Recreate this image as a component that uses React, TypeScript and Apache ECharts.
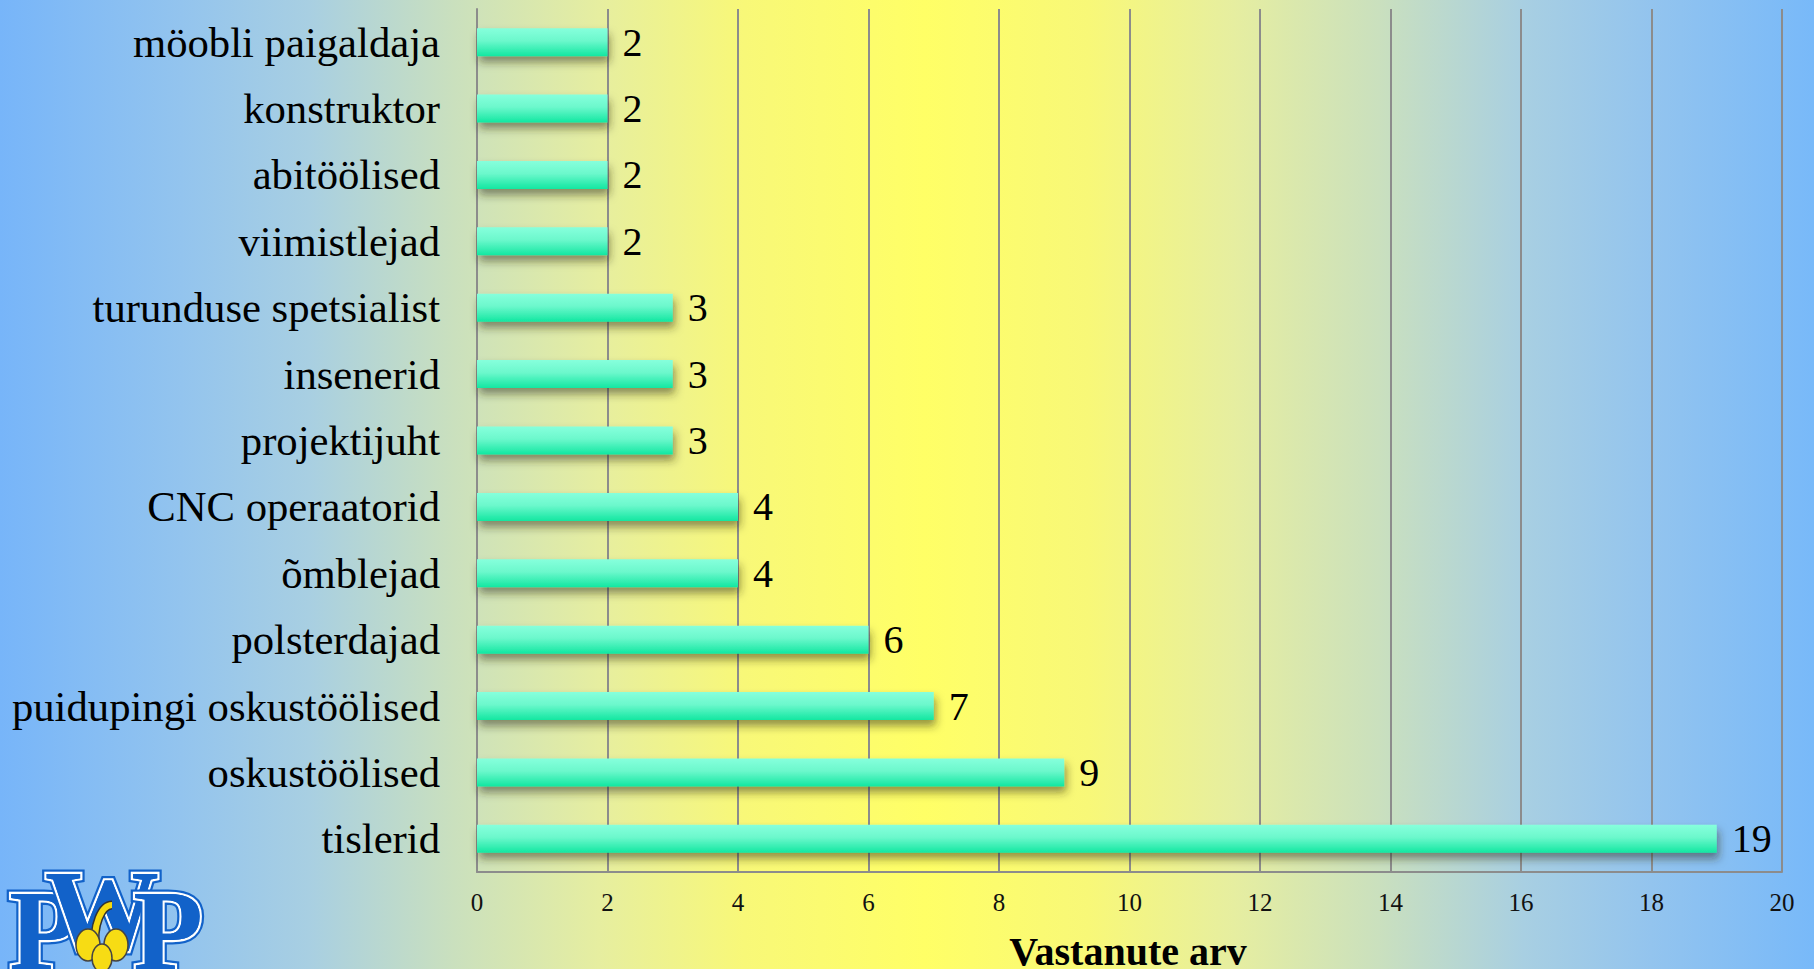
import React, { useEffect, useRef } from "react";
import * as echarts from "echarts";

const categories = [
  "möobli paigaldaja",
  "konstruktor",
  "abitöölised",
  "viimistlejad",
  "turunduse spetsialist",
  "insenerid",
  "projektijuht",
  "CNC operaatorid",
  "õmblejad",
  "polsterdajad",
  "puidupingi oskustöölised",
  "oskustöölised",
  "tislerid",
];
const values = [2, 2, 2, 2, 3, 3, 3, 4, 4, 6, 7, 9, 19];
const axisTitle = "Vastanute arv";
const xMin = 0;
const xMax = 20;
const xInterval = 2;

const SERIF = "'Liberation Serif', 'Times New Roman', serif";

export default function App() {
  const ref = useRef<HTMLDivElement>(null);
  useEffect(() => {
    document.body.style.margin = "0";
    const chart = echarts.init(ref.current!, null, { renderer: "svg" });
    const gray = "#8c8c8c";
    const logoBlue = "#1262c9";
    const letter = (t: string, x: number, y: number) => [
      { type: "text", x, y, silent: true, style: { text: t, font: `bold 114px ${SERIF}`, fill: logoBlue, stroke: logoBlue, lineWidth: 9, verticalAlign: "middle", align: "center" } },
      { type: "text", x, y, silent: true, style: { text: t, font: `bold 114px ${SERIF}`, fill: logoBlue, stroke: "#ffffff", lineWidth: 4.5, verticalAlign: "middle", align: "center" } },
      { type: "text", x, y, silent: true, style: { text: t, font: `bold 114px ${SERIF}`, fill: logoBlue, verticalAlign: "middle", align: "center" } },
    ];
    chart.setOption({
      animation: false,
      backgroundColor: new echarts.graphic.LinearGradient(0, 0, 1, 0, [
        { offset: 0, color: "#77b5f9" },
        { offset: 0.1, color: "#93c4ee" },
        { offset: 0.17, color: "#a8cfe2" },
        { offset: 0.25, color: "#cae0be" },
        { offset: 0.33, color: "#e6eea0" },
        { offset: 0.41, color: "#f8f878" },
        { offset: 0.51, color: "#ffff66" },
        { offset: 0.6, color: "#f8f878" },
        { offset: 0.68, color: "#e6eea0" },
        { offset: 0.76, color: "#cae0be" },
        { offset: 0.84, color: "#a8cfe2" },
        { offset: 0.91, color: "#93c4ee" },
        { offset: 1, color: "#78b9f9" },
      ]),
      grid: { left: 477, right: 32, top: 9, bottom: 97, containLabel: false },
      xAxis: {
        type: "value",
        min: xMin,
        max: xMax,
        interval: xInterval,
        axisLine: { show: true, lineStyle: { color: gray, width: 2 } },
        axisTick: { show: false },
        splitLine: { show: true, lineStyle: { color: gray, width: 2 } },
        axisLabel: { fontFamily: SERIF, fontSize: 25, color: "#111", margin: 18 },
      },
      yAxis: {
        type: "category",
        data: categories,
        inverse: true,
        axisLine: { show: true, lineStyle: { color: gray, width: 2 } },
        axisTick: { show: false },
        splitLine: { show: false },
        axisLabel: { fontFamily: SERIF, fontSize: 42.7, color: "#000", margin: 37 },
      },
      series: [
        {
          type: "bar",
          data: values,
          barWidth: 28,
          itemStyle: {
            color: new echarts.graphic.LinearGradient(0, 0, 0, 1, [
              { offset: 0, color: "#86ffdc" },
              { offset: 0.45, color: "#6cf8cc" },
              { offset: 1, color: "#12e7a1" },
            ]),
            shadowColor: "rgba(40,40,20,0.5)",
            shadowBlur: 8,
            shadowOffsetY: 6,
            shadowOffsetX: 2,
          },
          label: {
            show: true,
            position: "right",
            distance: 15,
            fontFamily: SERIF,
            fontSize: 40,
            color: "#000",
          },
        },
      ],
      graphic: [
        {
          type: "text",
          x: 1128,
          y: 951,
          style: { text: axisTitle, font: `bold 40px ${SERIF}`, fill: "#000", align: "center", verticalAlign: "middle" },
        },
        ...letter("P", 44, 930),
        ...letter("W", 102, 910),
        ...letter("P", 168, 930),
        { type: "bezierCurve", shape: { x1: 96, y1: 950, x2: 112, y2: 905, cpx1: 92, cpy1: 925, cpx2: 102, cpy2: 905 }, style: { stroke: "#333", lineWidth: 9, fill: null } },
        { type: "bezierCurve", shape: { x1: 96, y1: 950, x2: 112, y2: 905, cpx1: 92, cpy1: 925, cpx2: 102, cpy2: 905 }, style: { stroke: "#f5d90f", lineWidth: 6, fill: null } },
        { type: "ellipse", shape: { cx: 88, cy: 945, rx: 12, ry: 16 }, style: { fill: "#f7dc14", stroke: "#444", lineWidth: 1.5 } },
        { type: "ellipse", shape: { cx: 116, cy: 945, rx: 12, ry: 16 }, style: { fill: "#f7dc14", stroke: "#444", lineWidth: 1.5 } },
        { type: "ellipse", shape: { cx: 102, cy: 958, rx: 10, ry: 14 }, style: { fill: "#f7dc14", stroke: "#444", lineWidth: 1.5 } },
      ],
    });
    return () => chart.dispose();
  }, []);
  return <div ref={ref} style={{ position: "fixed", left: 0, top: 0, width: 1814, height: 969 }} />;
}
